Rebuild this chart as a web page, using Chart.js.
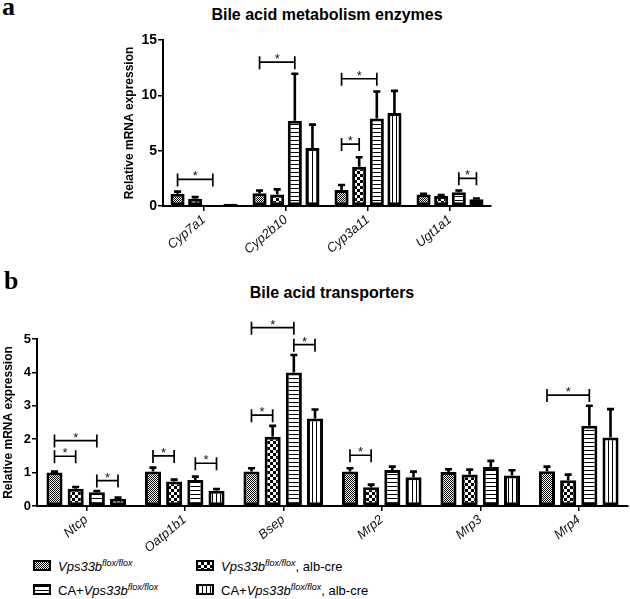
<!DOCTYPE html>
<html>
<head>
<meta charset="utf-8">
<script src="https://cdn.jsdelivr.net/npm/chart.js@4.4.1/dist/chart.umd.min.js"></script>
<style>
  body { margin: 0; background: #fff; font-family: 'Liberation Sans', Arial, sans-serif; color: #000; }
  #wrap { position: relative; width: 630px; height: 599px; overflow: hidden; }
  canvas { position: absolute; left: 0; }
  .panel { position: absolute; font-family: 'Liberation Serif', 'Times New Roman', serif; font-weight: bold; font-size: 26px; line-height: 1; }
  .title { position: absolute; font-weight: bold; font-size: 16px; white-space: nowrap; transform: translateX(-50%); }
  .leg { position: absolute; font-size: 13px; white-space: nowrap; line-height: 1; }
  .leg sup { font-size: 9px; font-style: italic; vertical-align: 5px; }
  .sw { display: inline-block; width: 14px; height: 7px; border: 2px solid #000; vertical-align: 0px; margin-right: 7px; }
  .fine { background: repeating-conic-gradient(#000 0 25%, #fff 0 50%) 0 0 / 2px 2px; }
  .chk  { background: repeating-conic-gradient(#000 0 25%, #fff 0 50%) 0 0 / 6px 6px; }
  .hor  { background: repeating-linear-gradient(to bottom, #000 0 1px, #fff 1px 4px); }
  .ver  { background: repeating-linear-gradient(to right, #000 0 1px, #fff 1px 4px); }
</style>
</head>
<body>
<div id="wrap">
  <div class="panel" style="left:2px;top:-6px">a</div>
  <div class="title" style="left:327px;top:6px">Bile acid metabolism enzymes</div>
  <canvas id="chartA" width="630" height="270" style="top:0"></canvas>

  <div class="panel" style="left:4px;top:268px">b</div>
  <div class="title" style="left:332px;top:284px">Bile acid transporters</div>
  <canvas id="chartB" width="630" height="285" style="top:270px"></canvas>

  <div class="leg" style="left:33px;top:559px"><span class="sw fine"></span><i>Vps33b</i><sup>flox/flox</sup></div>
  <div class="leg" style="left:196px;top:559px"><span class="sw chk"></span><i>Vps33b</i><sup>flox/flox</sup>, alb-cre</div>
  <div class="leg" style="left:33px;top:583px"><span class="sw hor"></span>CA+<i>Vps33b</i><sup>flox/flox</sup></div>
  <div class="leg" style="left:196px;top:583px"><span class="sw ver"></span>CA+<i>Vps33b</i><sup>flox/flox</sup>, alb-cre</div>
</div>
<script>
// ---- data (a) bile acid metabolism enzymes ----
const ENZYMES = ['Cyp7a1', 'Cyp2b10', 'Cyp3a11', 'Ugt1a1'];
const ENZ_WT      = [1.1, 1.15, 1.45, 1.05];
const ENZ_KO      = [0.65, 1.05, 3.55, 0.9];
const ENZ_CA      = [0, 7.7, 7.9, 1.25];
const ENZ_CAKO    = [0.2, 5.25, 8.4, 0.6];
const ENZ_WT_ERR  = [0.2, 0.25, 0.45, 0.05];
const ENZ_KO_ERR  = [0.15, 0.45, 0.85, 0.1];
const ENZ_CA_ERR  = [0, 4.25, 2.45, 0.15];
const ENZ_CAKO_ERR= [0, 2.1, 2.0, 0.08];
// [category, from bar, to bar, height]
const ENZ_SIG = [[0, 0, 2, 2.4], [1, 0, 2, 13.0], [2, 0, 2, 11.5], [2, 0, 1, 5.6], [3, 2, 3, 2.5]];

// ---- data (b) bile acid transporters ----
const TRANSPORTERS = ['Ntcp', 'Oatp1b1', 'Bsep', 'Mrp2', 'Mrp3', 'Mrp4'];
const TR_WT       = [1.0, 1.03, 1.03, 1.03, 1.02, 1.04];
const TR_KO       = [0.52, 0.73, 2.07, 0.56, 0.94, 0.77];
const TR_CA       = [0.41, 0.78, 4.0, 1.08, 1.17, 2.4];
const TR_CAKO     = [0.22, 0.46, 2.62, 0.86, 0.91, 2.05];
const TR_WT_ERR   = [0.03, 0.12, 0.1, 0.1, 0.08, 0.14];
const TR_KO_ERR   = [0.05, 0.06, 0.33, 0.08, 0.15, 0.17];
const TR_CA_ERR   = [0.04, 0.1, 0.52, 0.1, 0.18, 0.6];
const TR_CAKO_ERR = [0.03, 0.05, 0.27, 0.17, 0.16, 0.85];
const TR_SIG = [[0, 0, 2, 1.96], [0, 0, 1, 1.49], [0, 2, 3, 0.76], [1, 0, 1, 1.5], [1, 2, 3, 1.28],
                [2, 0, 2, 5.34], [2, 2, 3, 4.83], [2, 0, 1, 2.72], [3, 0, 1, 1.52], [5, 0, 2, 3.32]];

const SERIES = ['Vps33b flox/flox', 'Vps33b flox/flox, alb-cre', 'CA+Vps33b flox/flox', 'CA+Vps33b flox/flox, alb-cre'];

const FONT = "'Liberation Sans', Arial, sans-serif";

function makePattern(kind) {
  const c = document.createElement('canvas');
  const g = c.getContext('2d');
  const size = kind === 'fine' ? 2 : kind === 'chk' ? 6 : 4;
  c.width = c.height = size;
  g.fillStyle = '#fff';
  g.fillRect(0, 0, size, size);
  g.fillStyle = '#000';
  if (kind === 'fine') { g.fillRect(0, 0, 1, 1); g.fillRect(1, 1, 1, 1); }
  if (kind === 'chk')  { g.fillRect(0, 0, 3, 3); g.fillRect(3, 3, 3, 3); }
  if (kind === 'hor')  g.fillRect(0, 0, 4, 1);
  if (kind === 'ver')  g.fillRect(0, 0, 1, 4);
  return g.createPattern(c, 'repeat');
}
const PATTERNS = ['fine', 'chk', 'hor', 'ver'].map(makePattern);

// error bars + significance brackets
const annotPlugin = {
  id: 'annot',
  afterDatasetsDraw(chart, args, opts) {
    const { ctx } = chart;
    const y = chart.scales.y;
    ctx.save();
    ctx.strokeStyle = '#000';
    ctx.lineCap = 'butt';
    opts.errors.forEach((errs, di) => {
      const meta = chart.getDatasetMeta(di);
      meta.data.forEach((bar, i) => {
        if (!errs[i]) return;
        const v = chart.data.datasets[di].data[i];
        const top = y.getPixelForValue(v + errs[i]);
        ctx.lineWidth = 2.6;
        ctx.beginPath();
        ctx.moveTo(bar.x, bar.y);
        ctx.lineTo(bar.x, top);
        ctx.moveTo(bar.x - 3.5, top);
        ctx.lineTo(bar.x + 3.5, top);
        ctx.stroke();
      });
    });
    ctx.lineWidth = 1.7;
    ctx.fillStyle = '#111';
    ctx.font = '13px ' + FONT;
    ctx.textAlign = 'center';
    ctx.textBaseline = 'alphabetic';
    opts.brackets.forEach(([cat, a, b, val]) => {
      const x1 = chart.getDatasetMeta(a).data[cat].x;
      const x2 = chart.getDatasetMeta(b).data[cat].x;
      const yy = y.getPixelForValue(val);
      ctx.beginPath();
      ctx.moveTo(x1, yy); ctx.lineTo(x2, yy);
      ctx.moveTo(x1, yy - 6); ctx.lineTo(x1, yy + 7);
      ctx.moveTo(x2, yy - 6); ctx.lineTo(x2, yy + 7);
      ctx.stroke();
      ctx.fillText('*', (x1 + x2) / 2, yy + 1);
    });
    ctx.restore();
  },
};

function buildChart(canvas, cfg) {
  const datasets = cfg.values.map((vals, i) => ({
    label: SERIES[i],
    data: vals,
    backgroundColor: PATTERNS[i],
    borderColor: '#000',
    borderWidth: 3,
    borderSkipped: false,
    categoryPercentage: cfg.catPct,
    barPercentage: cfg.barPct,
  }));
  return new Chart(canvas, {
    type: 'bar',
    data: { labels: cfg.labels, datasets },
    options: {
      responsive: false,
      animation: false,
      layout: { padding: cfg.padding },
      plugins: {
        legend: { display: false },
        tooltip: { enabled: false },
        annot: { errors: cfg.errors, brackets: cfg.brackets },
      },
      scales: {
        x: {
          offset: true,
          grid: { offset: false, drawOnChartArea: false, drawTicks: true, tickLength: 5, color: '#000', lineWidth: 1.5 },
          border: { color: '#000', width: 2 },
          ticks: {
            autoSkip: false, maxRotation: 40, minRotation: 40, padding: 1,
            color: '#111', font: { family: FONT, size: 13, style: 'italic' },
          },
          afterFit: s => { s.height = cfg.xHeight; },
        },
        y: {
          min: 0, max: cfg.yMax,
          ticks: { stepSize: cfg.step, padding: 1, color: '#000', font: { family: FONT, size: cfg.yTickSize, weight: 'bold' } },
          grid: { drawOnChartArea: false, drawTicks: true, tickLength: 5, color: '#000', lineWidth: 1.5 },
          border: { color: '#000', width: 2 },
          title: {
            display: true, text: 'Relative mRNA expression', color: '#000',
            font: { family: FONT, size: 12, weight: 'bold' },
            padding: { top: cfg.yTitlePad, bottom: 0 },
          },
          afterFit: s => { s.width = cfg.yWidth; },
        },
      },
    },
    plugins: [annotPlugin],
  });
}

buildChart(document.getElementById('chartA'), {
  labels: ENZYMES,
  values: [ENZ_WT, ENZ_KO, ENZ_CA, ENZ_CAKO],
  errors: [ENZ_WT_ERR, ENZ_KO_ERR, ENZ_CA_ERR, ENZ_CAKO_ERR],
  brackets: ENZ_SIG,
  yMax: 15, step: 5, yTickSize: 14,
  padding: { top: 40, right: 139, left: 0, bottom: 0 },
  yWidth: 163, xHeight: 64, yTitlePad: 122,
  catPct: 0.86, barPct: 0.8,
});

buildChart(document.getElementById('chartB'), {
  labels: TRANSPORTERS,
  values: [TR_WT, TR_KO, TR_CA, TR_CAKO],
  errors: [TR_WT_ERR, TR_KO_ERR, TR_CA_ERR, TR_CAKO_ERR],
  brackets: TR_SIG,
  yMax: 5, step: 1, yTickSize: 13,
  padding: { top: 69, right: 2, left: 0, bottom: 0 },
  yWidth: 37, xHeight: 49, yTitlePad: 1,
  catPct: 0.86, barPct: 0.76,
});
</script>
</body>
</html>
